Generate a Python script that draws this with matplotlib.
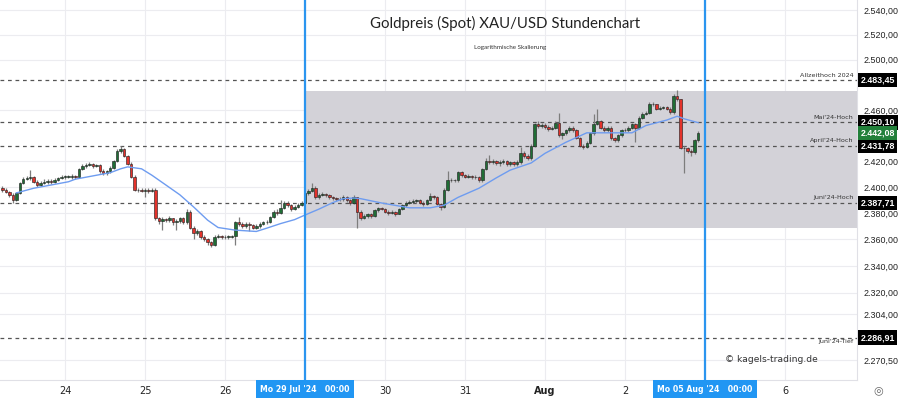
import numpy as np
import matplotlib
matplotlib.use('Agg')
import matplotlib.pyplot as plt
import matplotlib.transforms as mtransforms
from matplotlib.patches import Rectangle
from matplotlib.ticker import FixedLocator, FuncFormatter, NullLocator

#%% data (hourly candles, 23 per trading day)
first_open = 2399.0
closes = [
    # Tue 23 Jul (from 05:00)
    2398, 2396, 2394, 2390, 2395, 2403, 2406, 2407, 2407.5, 2404, 2401.5, 2403, 2404, 2404.5, 2404, 2405.5, 2407, 2408,
    # Wed 24 Jul
    2408, 2408, 2408.5, 2407.5, 2414, 2416, 2417, 2417.5, 2416.5, 2417, 2412, 2410.5, 2412, 2415, 2420, 2428, 2429, 2424, 2418, 2408, 2398, 2397.5, 2397,
    # Thu 25 Jul
    2398, 2397, 2398, 2376, 2374, 2375.5, 2374.5, 2376, 2373, 2374, 2376, 2373, 2381, 2369, 2365, 2366, 2362, 2360, 2358, 2356, 2362, 2362.5, 2361.5,
    # Fri 26 Jul
    2362, 2362, 2362.5, 2373, 2372, 2370, 2372, 2371, 2369, 2370, 2372, 2373, 2373.5, 2377, 2381, 2380, 2384, 2388, 2386, 2383, 2385, 2386.5, 2388,
    # Mon 29 Jul
    2395, 2397, 2399.5, 2392, 2394, 2394.5, 2393.5, 2392, 2391.5, 2391, 2390.5, 2392, 2390, 2388, 2392, 2381, 2376.5, 2378, 2379, 2378, 2382, 2383.5, 2383,
    # Tue 30 Jul
    2381, 2380, 2380.5, 2379.5, 2383, 2386, 2388, 2388.5, 2389, 2390, 2388, 2387, 2390, 2393, 2392, 2387, 2385, 2398, 2405, 2405.5, 2405, 2411.5, 2409,
    # Wed 31 Jul
    2408, 2408.5, 2407.5, 2408, 2405, 2414, 2420, 2419, 2420, 2418.5, 2419.5, 2420, 2418, 2419, 2417.5, 2419, 2426, 2424, 2422, 2432, 2449, 2447, 2448,
    # Thu 01 Aug
    2446.5, 2445, 2446, 2450, 2440, 2441.5, 2444, 2446, 2444, 2438, 2432, 2431, 2434, 2441.5, 2449, 2451, 2446, 2444, 2446, 2438, 2436, 2440, 2444,
    # Fri 02 Aug
    2444, 2446, 2449, 2446, 2454, 2457, 2457.5, 2465, 2464.5, 2461, 2461.5, 2462, 2461, 2458, 2471, 2468.5, 2430, 2430, 2428, 2427, 2436, 2442.08,
]
highs = [
    2400.5, 2399, 2397, 2395, 2396, 2404, 2407.5, 2408.5, 2413, 2408.5, 2405, 2404.5, 2406, 2406, 2406.5, 2407, 2408, 2409.5,
    2409.5, 2409, 2410, 2409.5, 2415, 2417.5, 2418.5, 2419, 2418.5, 2418, 2417.5, 2413.5, 2413, 2416, 2421, 2429, 2431.5, 2430, 2425, 2419, 2409, 2399.5, 2399,
    2399.5, 2399, 2399.5, 2399, 2377, 2377, 2376.5, 2377.5, 2376.5, 2375.5, 2377, 2377, 2383, 2382, 2370, 2367.5, 2367, 2363.5, 2361, 2359, 2363, 2364, 2363.5,
    2363, 2363.5, 2363.5, 2374, 2377, 2373, 2373.5, 2373, 2372, 2371.5, 2373, 2374, 2375, 2378, 2382.5, 2383, 2390, 2389.5, 2389, 2387, 2386.5, 2387.5, 2389,
    2396.5, 2398.5, 2403, 2400.5, 2395.5, 2396, 2395.5, 2394.5, 2393, 2392.5, 2392, 2393.5, 2393, 2391, 2393.5, 2392.5, 2382, 2379.5, 2380, 2380, 2383, 2385, 2384.5,
    2384, 2382, 2382, 2381.5, 2384, 2387, 2389, 2390, 2390.5, 2391, 2391, 2389, 2391, 2395, 2394, 2393, 2388, 2399, 2412, 2407, 2406.5, 2412.5, 2412,
    2410, 2410, 2409.5, 2409, 2408.5, 2415, 2422, 2424.5, 2421.5, 2421, 2421, 2421.5, 2421, 2420, 2420, 2420.5, 2431, 2427.5, 2425.5, 2433, 2450, 2451, 2449.5,
    2449.5, 2448, 2447.5, 2451, 2457.7, 2443, 2445, 2447, 2447, 2445, 2439, 2433, 2435.5, 2442.5, 2457, 2461, 2452, 2447, 2447.5, 2447, 2439, 2441, 2445,
    2445.5, 2447, 2450, 2450, 2455, 2458, 2459, 2466, 2466, 2465, 2463, 2463, 2463, 2462, 2472.5, 2476, 2469, 2432, 2431, 2429, 2437, 2443.5,
]
lows = [
    2396.5, 2395, 2392.5, 2387.5, 2389, 2394.5, 2402, 2405, 2405.5, 2403, 2400, 2400.5, 2402, 2402.5, 2402.5, 2403, 2404.5, 2406,
    2406.5, 2407, 2406.5, 2406, 2407, 2413, 2415, 2416, 2415, 2415.5, 2411, 2409.5, 2409.5, 2411, 2414, 2419, 2426, 2423, 2417, 2407, 2397, 2396, 2396,
    2392, 2395.5, 2396, 2374.5, 2372, 2367, 2373, 2373, 2371, 2367, 2372.5, 2371.5, 2372, 2367.5, 2360, 2363, 2360.5, 2358.5, 2356, 2354, 2355, 2361, 2360,
    2360.5, 2360.5, 2361, 2355.5, 2370.5, 2369, 2369, 2366, 2367.5, 2368, 2369, 2371, 2372, 2372.5, 2376, 2378.5, 2379, 2383, 2384.5, 2381.5, 2382, 2384, 2385.5,
    2387, 2394, 2396, 2390.5, 2391, 2393, 2392, 2390.5, 2390, 2389.5, 2389, 2389.5, 2388.5, 2386.5, 2387, 2369, 2375, 2375.5, 2376.5, 2376.5, 2377, 2381, 2382,
    2380, 2378.5, 2379, 2377.5, 2379, 2382, 2385, 2387, 2387.5, 2388, 2387, 2385.5, 2386, 2389, 2390.5, 2386, 2382, 2384, 2397, 2403.5, 2404, 2404, 2408,
    2407, 2407, 2406, 2406, 2404, 2404, 2413, 2417.5, 2418, 2417, 2416, 2418, 2416.5, 2416, 2416, 2416.5, 2418, 2422, 2420.5, 2421, 2431, 2446, 2446,
    2445, 2443.5, 2444, 2445, 2439, 2437, 2440.5, 2443, 2443, 2437, 2431, 2429.5, 2430, 2433, 2440.5, 2448, 2445, 2443, 2442.5, 2436.5, 2434.5, 2435, 2439,
    2442.5, 2443, 2445, 2434.6, 2445, 2453, 2456, 2456.5, 2463, 2460, 2460, 2460.5, 2460, 2457, 2457, 2467, 2429, 2411, 2426, 2424, 2425.5, 2435,
]

# blue moving average, read at a few points (candle index, price)
ma_idx = [4, 9, 14, 19, 21, 26, 31, 34, 36, 40, 43, 47, 51, 55, 59, 62, 67, 73, 76, 80, 84, 87, 91,
          95, 98, 101, 103, 109, 117, 123, 127, 131, 137, 142, 146, 152, 156, 162, 168, 175, 181, 185,
          191, 194, 196, 200]
ma_val = [2395.4, 2399, 2401.5, 2404, 2406, 2408.5, 2411, 2414, 2415.5, 2414, 2409, 2401.5, 2394,
          2384.6, 2374.6, 2369, 2367, 2366, 2368.5, 2372, 2375, 2378.5, 2383, 2388, 2391, 2391.5, 2391,
          2387.7, 2384, 2384, 2386, 2392, 2399, 2407, 2413, 2418.5, 2426, 2434.6, 2442, 2442, 2442,
          2447.7, 2452, 2455, 2453, 2450]

levels = [2483.45, 2450.10, 2431.78, 2387.71, 2286.91]
level_names = ['Allzeithoch 2024', "Mai'24-Hoch", "April'24-Hoch", "Juni'24-Hoch", "Juni'24-Tief"]
last_price = 2442.08
zone_low, zone_high = 2369, 2475

day_labels = ['24', '25', '26', '30', '31', 'Aug', '2', '6']
day_pos = [18, 41, 64, 110, 133, 156, 179, 225]
marked_days = ["Mo 29 Jul '24   00:00", "Mo 05 Aug '24   00:00"]
marked_pos = [87, 202]
price_ticks = [2540, 2520, 2500, 2460, 2420, 2400, 2380, 2360, 2340, 2320, 2304, 2270.50]

#%% figure
def de_fmt(v):
    return f"{v:,.2f}".replace(",", "X").replace(".", ",").replace("X", ".")

plt.rcParams['font.family'] = ['DejaVu Sans']
fig = plt.figure(figsize=(9, 3.98), dpi=100)
ax = fig.add_axes([0, 18/398, 857/900, 380/398])
ax.set_yscale('log')
ax.set_ylim(2256.0, 2548.2)
ax.set_xlim(-0.69, 245.7)

opens = [first_open] + closes[:-1]
x = np.arange(len(closes))
o = np.array(opens); c = np.array(closes)
up = c >= o
body_col = np.where(up, '#1f6e35', '#e3322b')

# grey zone starting on Monday
ax.add_patch(Rectangle((marked_pos[0], zone_low), 245.7 - marked_pos[0], zone_high - zone_low,
                       facecolor='#d3d2d8', edgecolor='none', zorder=0.5))

# grid
for p in price_ticks:
    ax.axhline(p, color='#ececf0', lw=0.8, zorder=0)
for d in day_pos + marked_pos:
    ax.axvline(d, color='#ececf0', lw=0.8, zorder=0)

# level lines
ytrans = mtransforms.blended_transform_factory(ax.transAxes, ax.transData)
for lv, name in zip(levels, level_names):
    ax.axhline(lv, color='#555555', lw=0.9, ls=(0, (3, 3)), zorder=1)
    if 'Tief' in name:
        ax.text(0.996, lv * 0.9994, name, transform=ytrans, ha='right', va='top', fontsize=4.6, color='#333333')
    else:
        ax.text(0.996, lv * 1.0008, name, transform=ytrans, ha='right', va='bottom', fontsize=4.6, color='#333333')

# candles
ax.vlines(x, lows, highs, color='#7d7d7d', lw=0.9, zorder=2)
body_h = np.maximum(np.abs(c - o), 0.35)
ax.bar(x, body_h, bottom=np.minimum(o, c), width=0.7, color=body_col, edgecolor='#1a1a1a', lw=0.4, zorder=3)

# moving average
ax.plot(ma_idx, ma_val, color='#6e9cf0', lw=1.0, zorder=4)

# blue marker lines
for p in marked_pos:
    ax.axvline(p, color='#2b95ef', lw=1.6, zorder=5)

# axes look
for s in ['top', 'left']:
    ax.spines[s].set_visible(False)
ax.spines['bottom'].set_color('#e0e0e6')
ax.spines['right'].set_color('#e0e0e6')
ax.yaxis.tick_right()
ax.yaxis.set_major_locator(FixedLocator(price_ticks))
ax.yaxis.set_minor_locator(NullLocator())
ax.yaxis.set_major_formatter(FuncFormatter(lambda v, p: de_fmt(v)))
ax.tick_params(axis='y', length=0, pad=5, labelsize=6.4, labelcolor='#222222')
for lab in ax.get_yticklabels():
    lab.set_family('Liberation Sans')
ax.set_xticks(day_pos)
ax.set_xticklabels(day_labels)
ax.xaxis.set_minor_locator(NullLocator())
ax.tick_params(axis='x', length=0, pad=4, labelsize=7, labelcolor='#222222')
for lab in ax.get_xticklabels():
    if lab.get_text() == 'Aug':
        lab.set_fontweight('bold')

# price boxes on the right
for lv in levels:
    ax.text(1.004, lv, de_fmt(lv), transform=ytrans, ha='left', va='center', fontsize=6.4,
            fontweight='bold', color='white', zorder=10, family='Liberation Sans',
            bbox=dict(boxstyle='square,pad=0.3', fc='black', ec='none'))
ax.text(1.004, last_price, de_fmt(last_price), transform=ytrans, ha='left', va='center', fontsize=6.4,
        fontweight='bold', color='white', zorder=10, family='Liberation Sans',
        bbox=dict(boxstyle='square,pad=0.3', fc='#22803a', ec='none'))

# date boxes at the bottom
xtrans = mtransforms.blended_transform_factory(ax.transData, ax.transAxes)
for p, lab in zip(marked_pos, marked_days):
    ax.text(p, -0.012, lab, transform=xtrans, ha='center', va='top', fontsize=5.6, color='white',
            fontweight='bold', zorder=10, clip_on=False,
            bbox=dict(boxstyle='square,pad=0.55', fc='#2196f3', ec='none'))

# titles and watermark
fig.text(505/900, 1 - 23/398, 'Goldpreis (Spot) XAU/USD Stundenchart', ha='center', va='center',
         fontsize=10.8, color='#222222', family='Lato')
fig.text(510/900, 1 - 48/398, 'Logarithmische Skalierung', ha='center', va='center',
         fontsize=4.5, color='#333333', family='Lato')
fig.text(818/900, 1 - 359/398, '© kagels-trading.de', ha='right', va='center',
         fontsize=6.6, color='#333333')
fig.text(878/900, 1 - 390/398, '◎', ha='center', va='center', fontsize=8, color='#666666')

fig.savefig('out.png', dpi=100)
